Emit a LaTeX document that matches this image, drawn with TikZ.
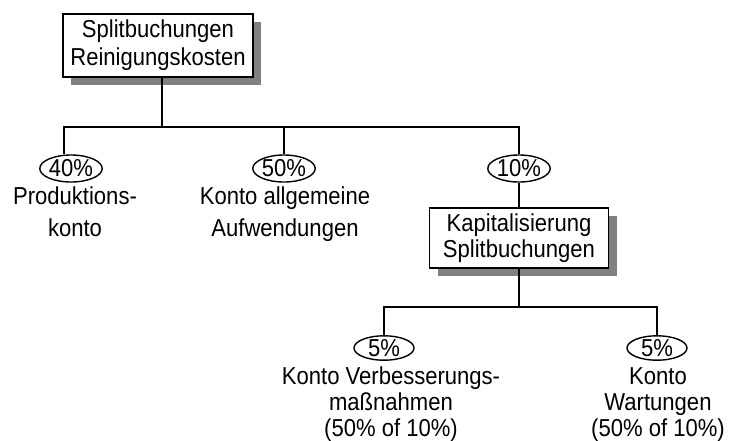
\documentclass[tikz,border=0pt]{standalone}
\usepackage{fontspec}
\setmainfont{Liberation Sans}[FakeStretch=0.9]
\usetikzlibrary{shapes.geometric,shadows}
\begin{document}
\begin{tikzpicture}[x=1pt,y=-1pt,
  every node/.style={font=\fontsize{24.5}{28}\selectfont},
  box/.style={draw, line width=1.8pt, fill=white, align=center, inner sep=0pt,
    drop shadow={shadow xshift=8pt, shadow yshift=-8pt, fill=black!50, opacity=1}},
  pct/.style={draw, ellipse, line width=1.4pt, inner sep=0pt, minimum width=60pt, minimum height=27pt},
  lbl/.style={align=center, inner sep=0pt, anchor=base},
  conn/.style={line width=1.7pt}]
\useasboundingbox (0,0) rectangle (729,440);

% boxes
\node[box, minimum width=190pt, minimum height=63pt] (top) at (158,45.5)
  {Splitbuchungen\\Reinigungskosten};
\node[box, minimum width=179pt, minimum height=60pt,
  font=\fontsize{24.5}{26}\selectfont] (kap) at (519,238)
  {Kapitalisierung\\Splitbuchungen};

% percentage ellipses
\node[pct] (e40) at (71,168.5) {40\%};
\node[pct] (e50) at (284,168.5) {50\%};
\node[pct] (e10) at (519,168.5) {10\%};
\node[pct, minimum height=24pt] (e5a) at (384,348) {5\%};
\node[pct, minimum height=24pt] (e5b) at (657,348) {5\%};

% labels (anchor=base is the baseline of the last line)
\node[lbl, font=\fontsize{24.5}{32}\selectfont] (l40) at (75,236.5) {Produktions-\\konto};
\node[lbl, font=\fontsize{24.5}{32}\selectfont] (l50) at (285,236) {Konto allgemeine\\Aufwendungen};
\node[lbl, font=\fontsize{24.5}{26}\selectfont] (l5a) at (391,436) {Konto Verbesserungs-\\maßnahmen\\(50\% of 10\%)};
\node[lbl, font=\fontsize{24.5}{26}\selectfont] (l5b) at (658,436) {Konto\\Wartungen\\(50\% of 10\%)};

% connectors
\coordinate (h1L) at (64,127);
\coordinate (h1R) at (519,127);
\coordinate (h2L) at (384,307);
\coordinate (h2R) at (657,307);
\draw[conn] ([xshift=4pt]top.south) -- ([xshift=4pt]top.south |- h1L);
\draw[conn] (e40.north -| h1L) |- (h1R) -- (e10.north);
\draw[conn] (h1L -| e50) -- (e50.north);
\draw[conn] (e10.south) -- (kap.north);
\draw[conn] (kap.south) -- (kap.south |- h2L);
\draw[conn] (e5a.north) |- (h2R) -- (e5b.north);
\end{tikzpicture}
\end{document}
